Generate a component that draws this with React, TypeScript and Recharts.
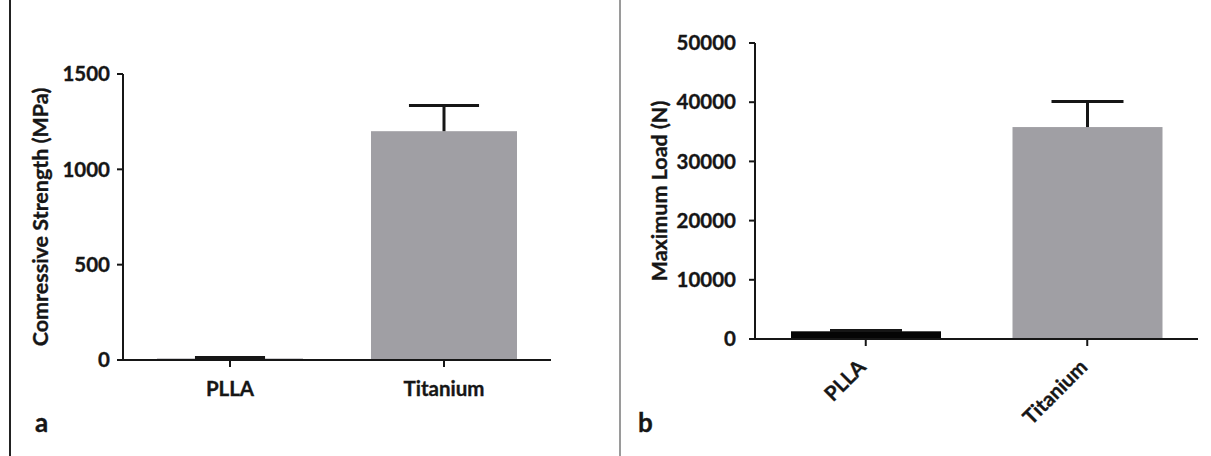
import React from 'react'
import { BarChart, Bar, XAxis, YAxis, Cell } from 'recharts'

const categories = ['PLLA', 'Titanium']
const strengthMean = [8, 1200]
const strengthSd = [5, 135]
const strengthTicks = [0, 500, 1000, 1500]
const loadMean = [1300, 35800]
const loadSd = [150, 4300]
const loadTicks = [0, 10000, 20000, 30000, 40000, 50000]
const strengthColors = ['#a09fa4', '#a09fa4']
const loadColors = ['#050505', '#a09fa4']

const strengthRows = categories.map((name, i) => ({ name, mean: strengthMean[i], sd: strengthSd[i] }))
const loadRows = categories.map((name, i) => ({ name, mean: loadMean[i], sd: loadSd[i] }))

const FONT = 'Lato, "Open Sans", sans-serif'
const INK = '#161616'
const bold = { fontFamily: FONT, fontWeight: 700, fill: INK, stroke: INK, strokeWidth: 0.35 }
const numStyle = { ...bold, fontSize: 20.5 }
const catStyle = { ...bold, fontSize: 20.5 }

// bar + upper SD whisker, scaled from the bar's own pixel height
function MeanSdBar(props: any) {
  const { x, y, width, height, fill, payload } = props
  const k = payload.mean > 0 ? height / payload.mean : 0
  const cx = x + width / 2
  const top = y - payload.sd * k
  const cap = width * 0.24
  return (
    <g>
      <rect x={x} y={y} width={width} height={height} fill={fill} />
      <line x1={cx} x2={cx} y1={y} y2={top} stroke={INK} strokeWidth={3} />
      <line x1={cx - cap} x2={cx + cap} y1={top} y2={top} stroke={INK} strokeWidth={3} />
    </g>
  )
}

const yLabel = (text: string, dx: number) => (p: any) => {
  const vb = p.viewBox
  const cx = vb.x + dx
  const cy = vb.y + vb.height / 2
  return (
    <text x={cx} y={cy} transform={`rotate(-90 ${cx} ${cy})`} textAnchor="middle" dominantBaseline="central"
      style={{ ...bold, fontSize: 21.5 }}>
      {text}
    </text>
  )
}

const SlantTick = (p: any) => (
  <g transform={`translate(${p.x - 9},${p.y})`}>
    <text x={0} y={0} dy="0.72em" textAnchor="end" transform="rotate(-45)" style={catStyle}>
      {p.payload.value}
    </text>
  </g>
)

export default function App() {
  const axisLine = { stroke: INK, strokeWidth: 2 }
  return (
    <div style={{ position: 'absolute', left: 0, top: 0, width: 1211, height: 456, background: '#fff', overflow: 'hidden' }}>
      <svg width={1211} height={456} style={{ position: 'absolute', left: 0, top: 0 }}>
        <line x1={10} x2={10} y1={0} y2={456} stroke="#222" strokeWidth={2} />
        <line x1={620} x2={620} y1={0} y2={456} stroke="#9a9a9a" strokeWidth={2} />
        <text x={35} y={432} style={{ ...bold, fontSize: 26 }}>a</text>
        <text x={638} y={432} style={{ ...bold, fontSize: 26 }}>b</text>
      </svg>

      <div style={{ position: 'absolute', left: 0, top: 0 }}>
        <BarChart width={600} height={456} data={strengthRows} margin={{ top: 74, right: 49, bottom: 66, left: 63 }} barSize={146}>
          <XAxis dataKey="name" height={30} axisLine={axisLine} tickLine={axisLine} tickSize={7} tickMargin={14} tick={catStyle} interval={0} />
          <YAxis width={60} domain={[0, 1500]} ticks={strengthTicks} axisLine={axisLine} tickLine={axisLine} tickSize={6} tickMargin={7}
            tick={numStyle} interval={0} label={{ content: yLabel('Comressive Strength (MPa)', -23) }} />
          <Bar dataKey="mean" isAnimationActive={false} shape={<MeanSdBar />}>
            {strengthRows.map((r, i) => <Cell key={r.name} fill={strengthColors[i]} />)}
          </Bar>
        </BarChart>
      </div>

      <div style={{ position: 'absolute', left: 620, top: 0 }}>
        <BarChart width={591} height={456} data={loadRows} margin={{ top: 43, right: 13, bottom: 87, left: 75 }} barSize={150}>
          <XAxis dataKey="name" height={30} axisLine={axisLine} tickLine={axisLine} tickSize={7} tickMargin={12} tick={<SlantTick />} interval={0} />
          <YAxis width={60} domain={[0, 50000]} ticks={loadTicks} axisLine={axisLine} tickLine={axisLine} tickSize={6} tickMargin={13}
            tick={numStyle} interval={0} label={{ content: yLabel('Maximum Load (N)', -36) }} />
          <Bar dataKey="mean" isAnimationActive={false} shape={<MeanSdBar />}>
            {loadRows.map((r, i) => <Cell key={r.name} fill={loadColors[i]} />)}
          </Bar>
        </BarChart>
      </div>
    </div>
  )
}
